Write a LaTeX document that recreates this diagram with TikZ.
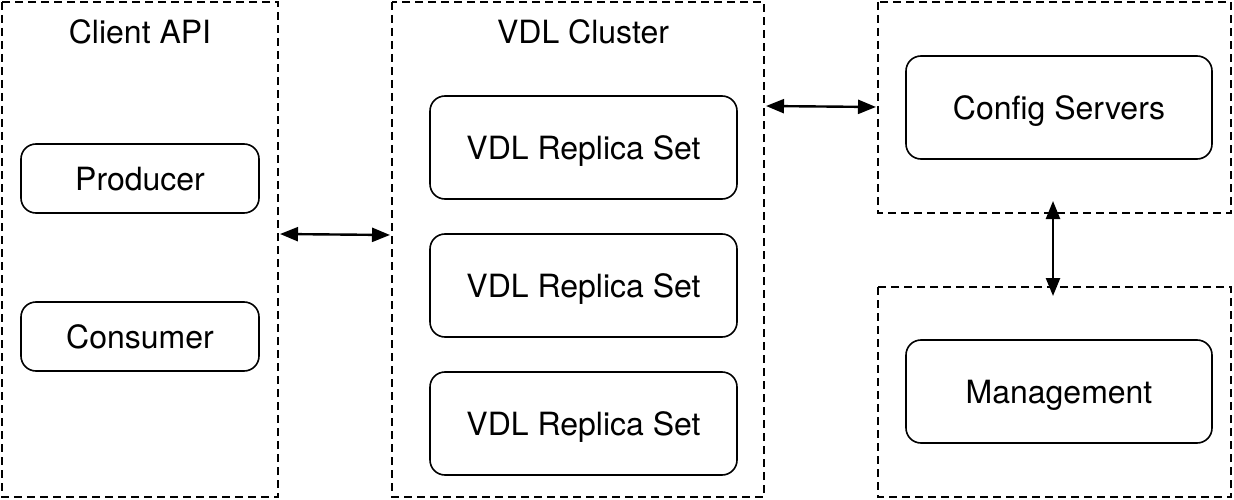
\documentclass[tikz,border=0pt]{standalone}
\usepackage{fontspec}
\setmainfont{TeX Gyre Heros}
\usetikzlibrary{arrows.meta}
\begin{document}
\begin{tikzpicture}[x=1pt,y=-1pt,
  group/.style={draw,dashed,line width=1.6pt,dash pattern=on 8pt off 5pt},
  rbox/.style={draw,line width=1.6pt,rounded corners=15pt,font=\fontsize{32}{38}\selectfont,text height=24.5pt,text depth=0pt},
  title/.style={font=\fontsize{32}{38}\selectfont,anchor=base},
  conn/.style={line width=2.4pt,{Triangle[length=18pt,width=14pt]}-{Triangle[length=18pt,width=14pt]}}]
\useasboundingbox (0,0) rectangle (1234,500);
\draw[group] (2,2) rectangle (278,497);
\draw[group] (392,2) rectangle (764,497);
\draw[group] (878,2) rectangle (1231,213);
\draw[group] (878,287) rectangle (1231,497);
\node[title] (t1) at (140,43.3) {Client API};
\node[title] (t2) at (583,43.3) {VDL Cluster};
\node[rbox,minimum width=238pt,minimum height=69pt] (prod) at (140,178.5) {Producer};
\node[rbox,minimum width=238pt,minimum height=69pt] (cons) at (140,336.5) {Consumer};
\node[rbox,minimum width=307pt,minimum height=103pt] (r1) at (583.5,147.5) {VDL Replica Set};
\node[rbox,minimum width=307pt,minimum height=103pt] (r2) at (583.5,285.5) {VDL Replica Set};
\node[rbox,minimum width=307pt,minimum height=103pt] (r3) at (583.5,423.5) {VDL Replica Set};
\node[rbox,minimum width=306pt,minimum height=103pt] (cfg) at (1059,107.5) {Config Servers};
\node[rbox,minimum width=306pt,minimum height=103pt] (mgmt) at (1059,391.5) {Management};
\coordinate (a1) at (280,234);
\coordinate (a2) at (390,235);
\coordinate (b1) at (766,106);
\coordinate (b2) at (876,107);
\coordinate (c1) at (1053,201);
\coordinate (c2) at (1053,296);
\draw[conn] (a1) -- (a2);
\draw[conn] (b1) -- (b2);
\draw[conn] (c1) -- (c2);
\end{tikzpicture}
\end{document}
